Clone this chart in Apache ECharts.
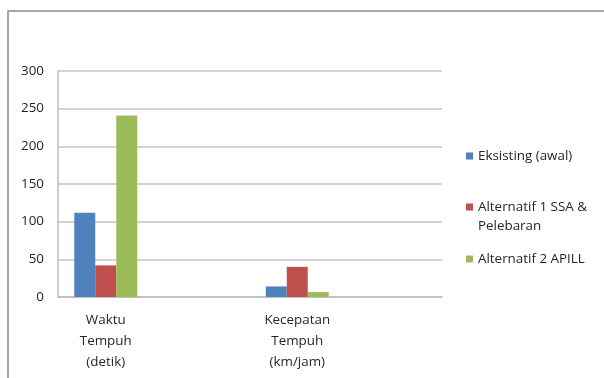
<!DOCTYPE html>
<html>
<head>
<meta charset="utf-8">
<script src="https://cdn.jsdelivr.net/npm/echarts@6/dist/echarts.min.js"></script>
<style>
  html, body { margin: 0; padding: 0; background: #fff; }
  #chart { width: 604px; height: 378px; }
</style>
</head>
<body>
<div id="chart"></div>
<script>
// Travel time / speed comparison for the three scenarios
const categories = ['Waktu\nTempuh\n(detik)', 'Kecepatan\nTempuh\n(km/jam)'];
const seriesNames = ['Eksisting (awal)', 'Alternatif 1 SSA &\nPelebaran', 'Alternatif 2 APILL'];
const eksisting = [112, 14];
const alternatif1 = [42, 40];
const alternatif2 = [241, 6.5];
const yTicks = { min: 0, max: 300, interval: 50 };

const colors = ['#4F81BD', '#C0504D', '#9BBB59'];
const fontFamily = 'Open Sans, Noto Sans, sans-serif';
const fontSize = 13.4;
const textColor = '#262626';
const gridTop = 71, gridBottom = 81;

const chart = echarts.init(document.getElementById('chart'));

function legendFor(name, top, formatter) {
  return {
    data: [name],
    orient: 'vertical',
    left: 466,
    top: top,
    icon: 'rect',
    itemWidth: 7,
    itemHeight: 7,
    padding: 0,
    selectedMode: false,
    formatter: formatter,
    textStyle: {
      fontFamily: fontFamily, fontSize: fontSize, color: textColor, lineHeight: 19
    }
  };
}

chart.setOption({
  animation: false,
  backgroundColor: '#fff',
  color: colors,
  graphic: [{
    type: 'rect',
    shape: { x: 8, y: 11, width: 620, height: 400 },
    style: { fill: 'none', stroke: '#8a8a8a', lineWidth: 1.5 },
    silent: true
  }],
  legend: [
    legendFor(seriesNames[0], 146.5),
    // two-line entry: a blank leading line keeps the marker level with the first text line
    legendFor(seriesNames[1], 178.5, name => ' \n' + name),
    legendFor(seriesNames[2], 249.5)
  ],
  grid: [
    // frame with gridlines and value axis
    { left: 58, right: 162, top: gridTop, bottom: gridBottom },
    // bar clusters
    { left: 10, right: 211, top: gridTop, bottom: gridBottom }
  ],
  xAxis: [
    {
      gridIndex: 0, type: 'category', data: ['', ''],
      axisLine: { show: true, lineStyle: { color: '#bdbdbd', width: 1.5 } },
      axisTick: { show: false }, axisLabel: { show: false }
    },
    {
      gridIndex: 1, type: 'category', data: categories,
      axisLine: { show: false }, axisTick: { show: false },
      axisLabel: {
        margin: 13, fontFamily: fontFamily, fontSize: fontSize, color: textColor, lineHeight: 21
      }
    }
  ],
  yAxis: [
    {
      gridIndex: 0, type: 'value',
      min: yTicks.min, max: yTicks.max, interval: yTicks.interval,
      axisLine: { show: true, lineStyle: { color: '#bdbdbd', width: 1.5 } },
      axisTick: { show: false },
      splitLine: { show: true, lineStyle: { color: '#c4c4c4', width: 1.5 } },
      axisLabel: { margin: 14, fontFamily: fontFamily, fontSize: fontSize, color: textColor }
    },
    {
      gridIndex: 1, type: 'value',
      min: yTicks.min, max: yTicks.max, interval: yTicks.interval,
      show: false, splitLine: { show: false }
    }
  ],
  series: [eksisting, alternatif1, alternatif2].map((values, i) => ({
    name: seriesNames[i],
    type: 'bar',
    xAxisIndex: 1,
    yAxisIndex: 1,
    data: values,
    barWidth: 21,
    barGap: '0%',
    itemStyle: { color: colors[i] }
  }))
});
</script>
</body>
</html>
